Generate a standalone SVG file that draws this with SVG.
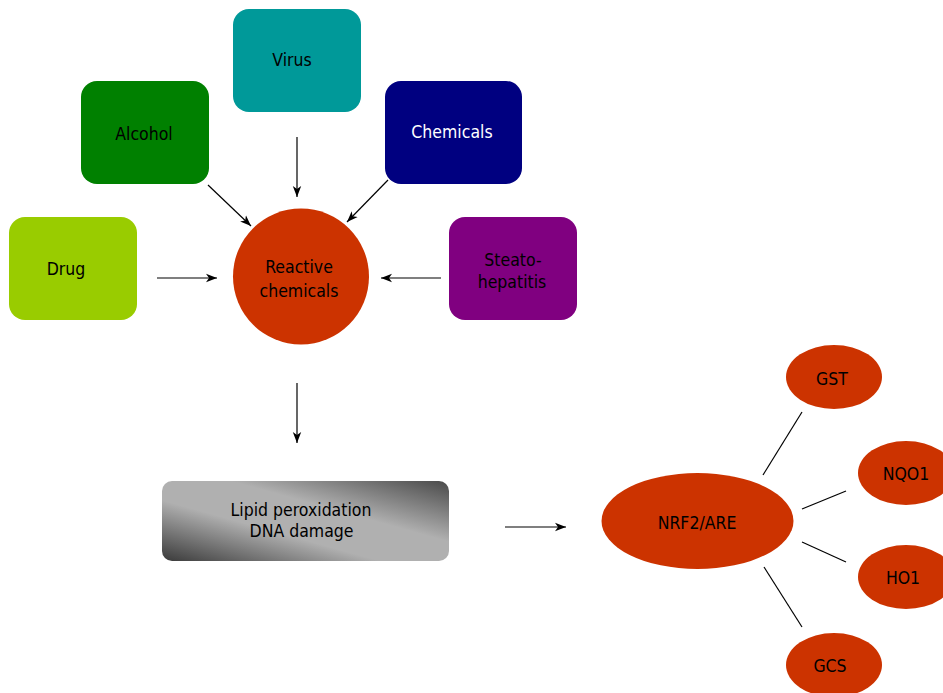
<svg xmlns="http://www.w3.org/2000/svg" width="943" height="693" viewBox="0 0 943 693">
<style>
text{font-family:"DejaVu Sans Condensed","DejaVu Sans",sans-serif;font-size:17.5px;fill:#000;text-anchor:middle}
.box{stroke:none}
.con line{stroke:#000;stroke-width:1.2;fill:none}
.arr{marker-end:url(#ah)}
.red{fill:#cc3300}
</style>
<defs>
<marker id="ah" markerWidth="12" markerHeight="10" refX="11" refY="5" orient="auto" markerUnits="userSpaceOnUse">
<path d="M0,0.8 L11,5 L0,9.2 L3,5 Z" fill="#000"/>
</marker>
<linearGradient id="g" x1="0" y1="1" x2="1" y2="0">
<stop offset="0" stop-color="#3a3a3a"/>
<stop offset="0.38" stop-color="#b0b0b0"/>
<stop offset="0.62" stop-color="#b0b0b0"/>
<stop offset="1" stop-color="#4a4a4a"/>
</linearGradient>
</defs>
<rect width="943" height="693" fill="#fff"/>
<g id="virus"><rect class="box" x="233" y="9" width="128" height="103" rx="16" fill="#009999"/><text x="292" y="66">Virus</text></g>
<g id="alcohol"><rect class="box" x="81" y="81" width="128" height="103" rx="16" fill="#008000"/><text x="144" y="140">Alcohol</text></g>
<g id="chemicals"><rect class="box" x="385" y="81" width="137" height="103" rx="16" fill="#000080"/><text x="452" y="138" style="fill:#fff">Chemicals</text></g>
<g id="drug"><rect class="box" x="9" y="217" width="128" height="103" rx="16" fill="#99cc00"/><text x="66" y="275">Drug</text></g>
<g id="steato"><rect class="box" x="449" y="217" width="128" height="103" rx="16" fill="#800080"/><text x="513" y="266">Steato-</text><text x="512" y="288">hepatitis</text></g>
<g id="reactive"><circle class="red" cx="301" cy="276.5" r="68"/><text x="299" y="273">Reactive</text><text x="299" y="297">chemicals</text></g>
<g id="lipid"><rect x="162" y="481" width="287" height="80" rx="10" fill="url(#g)"/><text x="301" y="516">Lipid peroxidation</text><text x="301.5" y="537">DNA damage</text></g>
<g id="nrf2"><ellipse class="red" cx="697.5" cy="521" rx="96" ry="48"/><text x="697" y="529">NRF2/ARE</text></g>
<g id="gst"><ellipse class="red" cx="834" cy="377" rx="48" ry="32"/><text x="832" y="385">GST</text></g>
<g id="nqo1"><ellipse class="red" cx="906" cy="473" rx="48" ry="32"/><text x="906" y="480">NQO1</text></g>
<g id="ho1"><ellipse class="red" cx="906" cy="577" rx="48" ry="32"/><text x="903" y="584">HO1</text></g>
<g id="gcs"><ellipse class="red" cx="834" cy="665" rx="48" ry="32"/><text x="830" y="672">GCS</text></g>
<g id="connectors" class="con">
<line class="arr" x1="297" y1="137" x2="297" y2="197"/>
<line class="arr" x1="208" y1="185" x2="251" y2="226"/>
<line class="arr" x1="388" y1="180" x2="347" y2="222"/>
<line class="arr" x1="157" y1="278" x2="217" y2="278"/>
<line class="arr" x1="441" y1="278" x2="381" y2="278"/>
<line class="arr" x1="297" y1="383" x2="297" y2="443"/>
<line class="arr" x1="505" y1="527" x2="566" y2="527"/>
<line x1="763" y1="475" x2="802" y2="412"/>
<line x1="802" y1="509" x2="846" y2="491"/>
<line x1="802" y1="542" x2="846" y2="562"/>
<line x1="764" y1="567" x2="802" y2="627"/>
</g>
</svg>
